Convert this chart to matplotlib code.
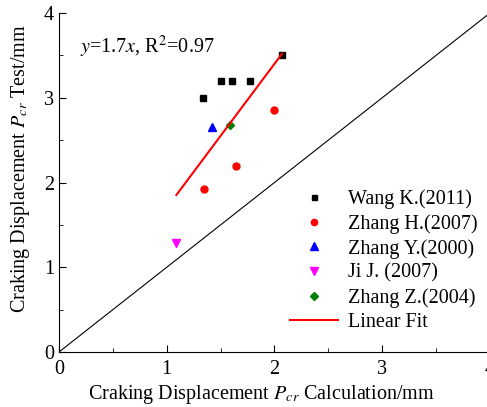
import numpy as np
import matplotlib
matplotlib.use('Agg')
import matplotlib.pyplot as plt

plt.rcParams['font.family'] = 'Liberation Serif'
plt.rcParams['mathtext.fontset'] = 'stix'

# data
wang_x = [1.34, 1.50, 1.61, 1.77, 2.07]
wang_y = [3.00, 3.20, 3.20, 3.20, 3.50]
zhangh_x = [1.35, 1.64, 2.00]
zhangh_y = [1.92, 2.20, 2.85]
zhangy_x = [1.42]
zhangy_y = [2.65]
ji_x = [1.09]
ji_y = [1.29]
zhangz_x = [1.59]
zhangz_y = [2.68]
fit_slope = 1.7
fit_range = [1.09, 2.07]

fig = plt.figure(figsize=(4.87, 4.07), dpi=100)
ax = fig.add_axes([0.121, 0.135, 0.885, 0.833])

ax.plot([0, 4], [0, 4], color='black', lw=0.8)
ax.plot(wang_x, wang_y, 's', color='black', ms=4, label='Wang K.(2011)')
ax.plot(zhangh_x, zhangh_y, 'o', color='red', ms=5, label='Zhang H.(2007)')
ax.plot(zhangy_x, zhangy_y, '^', color='blue', ms=6, label='Zhang Y.(2000)')
ax.plot(ji_x, ji_y, 'v', color='magenta', ms=6, label='Ji J. (2007)')
ax.plot(zhangz_x, zhangz_y, 'D', color='green', ms=4.5, label='Zhang Z.(2004)')
fx = np.array(fit_range)
ax.plot(fx, fit_slope * fx, color='red', lw=1.5, label='Linear Fit')

ax.set_xlim(0, 4)
ax.set_ylim(0, 4)
ax.set_xticks([0, 1, 2, 3, 4])
ax.set_yticks([0, 1, 2, 3, 4])
ax.set_xticks(np.arange(0.5, 4, 1), minor=True)
ax.set_yticks(np.arange(0.5, 4, 1), minor=True)
ax.tick_params(which='both', direction='in', labelsize=14.5)
ax.tick_params(which='major', length=5)
ax.tick_params(axis='x', which='major', pad=6)
ax.tick_params(which='minor', length=3)
ax.spines['top'].set_visible(False)
ax.spines['right'].set_visible(False)

ax.set_xlabel(r'Craking Displacement $P_{cr}$ Calculation/mm', fontsize=14.5)
ax.set_ylabel(r'Craking Displacement $P_{cr}$ Test/mm', fontsize=14.5)
ax.xaxis.set_label_coords(0.47, -0.092)
ax.yaxis.set_label_coords(-0.062, 0.54)

ax.text(0.2, 3.6, r'$y$=1.7$x$, R$^2$=0.97', fontsize=14.5, va='center')

ax.legend(loc='lower left', bbox_to_anchor=(0.535, 0.06), frameon=False, fontsize=14.5,
          borderpad=0, borderaxespad=0,
          handlelength=2.4, handletextpad=0.5, labelspacing=0.25, markerscale=0.9)

fig.savefig('out.png', dpi=100)
